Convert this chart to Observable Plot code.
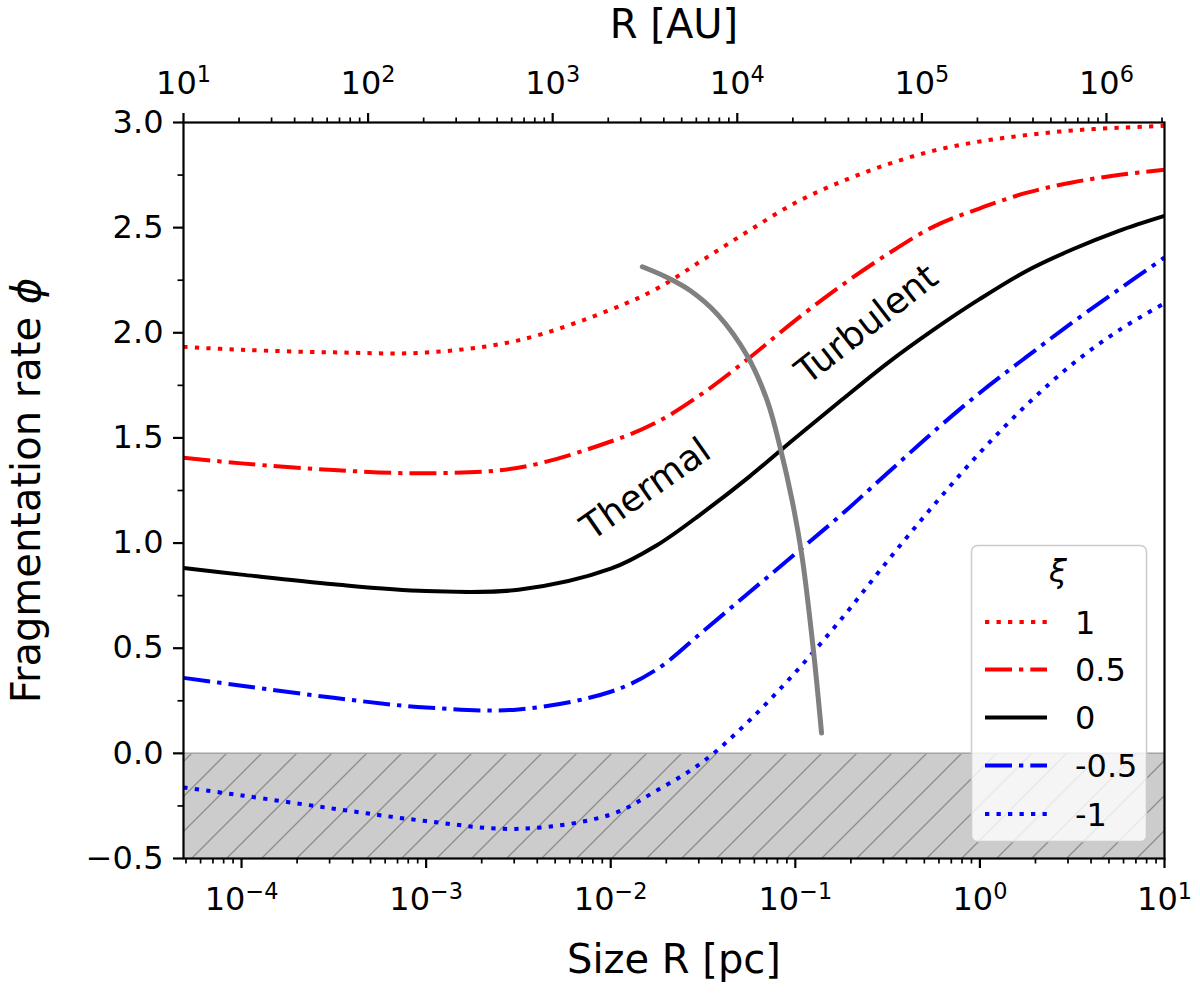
<!DOCTYPE html>
<html>
<head>
<meta charset="utf-8">
<script src="https://cdn.jsdelivr.net/npm/d3@7"></script>
<script src="https://cdn.jsdelivr.net/npm/@observablehq/plot@0.6"></script>
<style>
  body { margin: 0; background: #fff; }
</style>
</head>
<body>
<div id="chart"></div>
<script>
const AU_PER_PC = 206265

// sample sizes in pc (log spaced)
const sizePc = [4.85e-5, 1e-4, 3.16e-4, 1e-3, 3.16e-3, 1e-2, 1.78e-2, 3.16e-2, 5.62e-2,
  0.1, 0.178, 0.316, 0.562, 1, 1.78, 3.16, 5.62, 10]

const xiLabels = ['1', '0.5', '0', '-0.5', '-1']

const phiXi1 = [1.933, 1.919, 1.907, 1.906, 1.964, 2.11, 2.21, 2.347, 2.486,
  2.618, 2.719, 2.801, 2.866, 2.91, 2.94, 2.962, 2.975, 2.984]
const phiXi05 = [1.406, 1.379, 1.347, 1.332, 1.358, 1.483, 1.575, 1.713, 1.88,
  2.059, 2.225, 2.374, 2.505, 2.592, 2.665, 2.715, 2.75, 2.775]
const phiXi0 = [0.881, 0.85, 0.804, 0.772, 0.778, 0.878, 0.99, 1.145, 1.315,
  1.5, 1.68, 1.856, 2.015, 2.161, 2.293, 2.396, 2.484, 2.556]
const phiXiM05 = [0.359, 0.322, 0.264, 0.218, 0.209, 0.293, 0.4, 0.58, 0.765,
  0.949, 1.136, 1.333, 1.53, 1.715, 1.884, 2.048, 2.204, 2.358]
const phiXiM1 = [-0.162, -0.2, -0.263, -0.322, -0.359, -0.291, -0.176, -0.04, 0.155,
  0.385, 0.64, 0.915, 1.18, 1.43, 1.655, 1.85, 2.01, 2.14]

// thermal / turbulent transition curve
const transitionPc = [0.01483, 0.02023, 0.02704, 0.03775, 0.05487, 0.07043, 0.08318,
  0.09617, 0.1089, 0.1255, 0.1387]
const transitionPhi = [2.314, 2.263, 2.2, 2.089, 1.891, 1.677, 1.447, 1.201, 0.932, 0.485, 0.097]

const regionLabels = [
  {text: 'Thermal', size: 0.0155, phi: 1.256, angle: -35},
  {text: 'Turbulent', size: 0.244, phi: 2.04, angle: -38},
]

const phiTicks = [-0.5, 0, 0.5, 1, 1.5, 2, 2.5, 3]
const phiMinorTicks = [-0.25, 0.25, 0.75, 1.25, 1.75, 2.25, 2.75]
const pcTicks = [1e-4, 1e-3, 1e-2, 1e-1, 1, 10]
const auTicks = [1e1, 1e2, 1e3, 1e4, 1e5, 1e6]

const xDomain = [10 / AU_PER_PC, 10]
const phiDomain = [-0.5, 3]

const phiSeries = [phiXi1, phiXi05, phiXi0, phiXiM05, phiXiM1]
const lineStyles = {
  '1': {stroke: '#ff0000', dash: '4.3,7.2'},
  '0.5': {stroke: '#ff0000', dash: '27,7,4.3,7'},
  '0': {stroke: '#000000', dash: null},
  '-0.5': {stroke: '#0000ff', dash: '27,7,4.3,7'},
  '-1': {stroke: '#0000ff', dash: '4.3,7.2'},
}

const rows = xiLabels.flatMap((xi, i) => sizePc.map((s, j) => ({xi, size: s, phi: phiSeries[i][j]})))
const transition = transitionPc.map((s, i) => ({size: s, phi: transitionPhi[i]}))
const auTickPc = auTicks.map(a => a / AU_PER_PC)

// minor log ticks inside the domain
function minorLog(lo, hi, scale) {
  let out = []
  for (let e = Math.floor(Math.log10(lo * scale)); e <= Math.ceil(Math.log10(hi * scale)); e++) {
    for (let m = 2; m <= 9; m++) {
      let v = m * 10 ** e / scale
      if (v >= lo * 0.999 && v <= hi * 1.001) out.push(v)
    }
  }
  return out
}
const pcMinor = minorLog(xDomain[0], xDomain[1], 1)
const auMinor = minorLog(xDomain[0], xDomain[1], AU_PER_PC)

const minus = s => String(s).replace('-', '\u2212')
const expFmt = v => '10^' + minus(Math.round(Math.log10(v)))
const blank = () => ''

const axisFont = 32

chart = Plot.plot({
  width: 1200,
  height: 993,
  marginLeft: 183,
  marginRight: 36,
  marginTop: 122,
  marginBottom: 135,
  style: {fontFamily: 'DejaVu Sans', color: 'black', background: 'white'},
  x: {type: 'log', domain: xDomain},
  y: {domain: phiDomain},
  marks: [
    Plot.rect([{x1: xDomain[0], x2: xDomain[1], y1: phiDomain[0], y2: 0}], {
      x1: 'x1', x2: 'x2', y1: 'y1', y2: 'y2', fill: 'url(#hatch)',
    }),
    Plot.ruleY([0], {stroke: '#a6a6a6', strokeWidth: 1.5}),
    ...xiLabels.map(xi => Plot.line(rows.filter(d => d.xi == xi), {
      x: 'size',
      y: 'phi',
      stroke: lineStyles[xi].stroke,
      strokeDasharray: lineStyles[xi].dash,
      strokeWidth: 4,
      strokeLinecap: 'butt',
      curve: 'catmull-rom',
    })),
    Plot.line(transition, {x: 'size', y: 'phi', stroke: '#808080', strokeWidth: 5, curve: 'catmull-rom'}),
    Plot.text(regionLabels, {
      x: 'size', y: 'phi', text: 'text', rotate: 'angle', fontSize: 36, fill: 'black',
    }),
    // axes
    Plot.axisY(phiTicks, {
      tickSize: 10, tickPadding: 10, fontSize: axisFont, strokeWidth: 2.2,
      tickFormat: d => minus(d.toFixed(1)), label: null,
    }),
    Plot.axisY(phiMinorTicks, {tickSize: 5.5, strokeWidth: 1.7, tickFormat: blank, label: null}),
    Plot.axisX(pcTicks, {
      anchor: 'bottom', tickSize: 10, tickPadding: 19, fontSize: axisFont, strokeWidth: 2.2,
      tickFormat: expFmt, label: null,
    }),
    Plot.axisX(pcMinor, {anchor: 'bottom', tickSize: 5.5, strokeWidth: 1.7, tickFormat: blank, label: null}),
    Plot.axisX(auTickPc, {anchor: 'top', tickSize: 10, strokeWidth: 2.2, tickFormat: blank, label: null}),
    Plot.axisX(auMinor, {anchor: 'top', tickSize: 5.5, strokeWidth: 1.7, tickFormat: blank, label: null}),
    // top tick labels in AU (the log axis would hide non-decade pc values)
    Plot.text(auTickPc, {
      x: d => d, text: d => expFmt(d * AU_PER_PC), frameAnchor: 'top', lineAnchor: 'bottom',
      dy: -29, fontSize: axisFont,
    }),
    Plot.text(['Fragmentation rate \u03d5'], {
      frameAnchor: 'left', dx: -156, rotate: -90, fontSize: 40, textAnchor: 'middle', lineAnchor: 'middle',
    }),
    Plot.text(['Size R [pc]'], {
      frameAnchor: 'bottom', dy: 102, fontSize: 40, textAnchor: 'middle', lineAnchor: 'middle',
    }),
    Plot.text(['R [AU]'], {
      frameAnchor: 'top', dy: -97.5, fontSize: 40, textAnchor: 'middle', lineAnchor: 'middle',
    }),
    Plot.frame({stroke: 'black', strokeWidth: 2.2}),
  ],
})

const svg = d3.select(chart)

// hatch pattern for the phi < 0 band
const pat = svg.insert('defs', ':first-child').append('pattern')
  .attr('id', 'hatch').attr('patternUnits', 'userSpaceOnUse')
  .attr('width', 35).attr('height', 35)
pat.append('rect').attr('width', 35).attr('height', 35).attr('fill', '#cccccc')
pat.append('path').attr('d', 'M0,35L35,0M-9,9L9,-9M26,44L44,26')
  .attr('stroke', '#8c8c8c').attr('stroke-width', 1.3)

// superscript exponents, italic phi
svg.selectAll('text').each(function() {
  let t = d3.select(this)
  let s = this.textContent
  let m = s.match(/^10\^(.+)$/)
  if (m) {
    t.text('')
    t.append('tspan').text('10')
    t.append('tspan').attr('dy', '-0.52em').attr('font-size', '0.7em').text(m[1])
  } else if (s.endsWith('\u03d5')) {
    t.text('')
    t.append('tspan').text(s.slice(0, -1))
    t.append('tspan').attr('font-style', 'italic').text('\u03d5')
  }
})

// legend
const lg = svg.append('g').attr('font-family', 'DejaVu Sans').attr('text-anchor', 'start')
lg.append('rect').attr('x', 971.5).attr('y', 545.5).attr('width', 175).attr('height', 296)
  .attr('rx', 6).attr('fill', 'white').attr('fill-opacity', 0.8)
  .attr('stroke', '#cccccc').attr('stroke-width', 1.5)
lg.append('text').attr('x', 1058).attr('y', 582).attr('text-anchor', 'middle')
  .attr('font-size', 32).attr('font-style', 'italic').text('\u03be')
const legendY = [622, 669.5, 717.5, 765.5, 814]
xiLabels.forEach((xi, i) => {
  let st = lineStyles[xi]
  lg.append('line').attr('x1', 985).attr('x2', 1047).attr('y1', legendY[i]).attr('y2', legendY[i])
    .attr('stroke', st.stroke).attr('stroke-width', 4)
    .attr('stroke-dasharray', st.dash).attr('stroke-linecap', 'butt')
  lg.append('text').attr('x', 1075).attr('y', legendY[i]).attr('dy', '0.36em')
    .attr('font-size', 32).text(xi)
})

d3.select('#chart').append(() => chart)
</script>
</body>
</html>
